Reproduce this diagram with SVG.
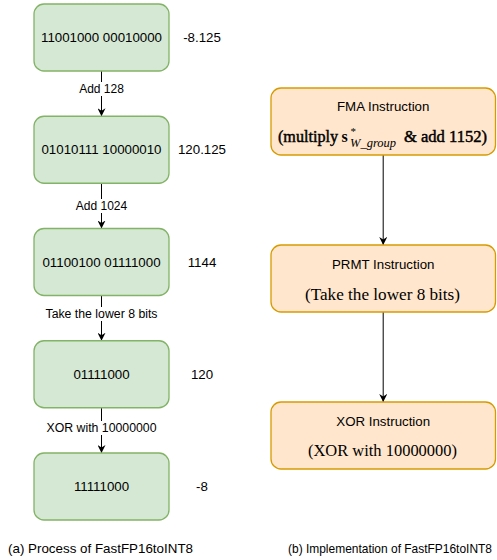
<svg xmlns="http://www.w3.org/2000/svg" width="497" height="560" viewBox="0 0 497 560">
<defs>
<marker id="arr" viewBox="0 0 10 10" refX="10" refY="5" markerWidth="8" markerHeight="8" markerUnits="userSpaceOnUse" orient="auto">
<path d="M0,0 L10,5 L0,10 L3,5 Z" fill="#000"/>
</marker>
<style>
.g{fill:#d5e8d4;stroke:#82b366;stroke-width:1.3}
.o{fill:#ffe6cc;stroke:#d79b00;stroke-width:1.3}
.t{font-family:"Liberation Sans",Arial,sans-serif;font-size:13.3px;fill:#000;text-anchor:middle}
.e{font-family:"Liberation Sans",Arial,sans-serif;font-size:12px;fill:#000;text-anchor:middle}
.m{font-family:"Liberation Serif","Times New Roman",serif;font-size:16px;fill:#000}
.b{stroke:#000;stroke-width:0.45}
.c{font-family:"Liberation Sans",Arial,sans-serif;font-size:13px;fill:#000}
.c2{font-family:"Liberation Sans",Arial,sans-serif;font-size:11.9px;fill:#000}
.ln{stroke:#000;stroke-width:1;fill:none}
.lb{fill:#fff}
</style>
</defs>
<g id="connectors">
<line class="ln" x1="101.5" y1="71" x2="101.5" y2="116.25" marker-end="url(#arr)"/>
<line class="ln" x1="101.5" y1="183.25" x2="101.5" y2="228.5" marker-end="url(#arr)"/>
<line class="ln" x1="101.5" y1="295.5" x2="101.5" y2="340.75" marker-end="url(#arr)"/>
<line class="ln" x1="101.5" y1="407.75" x2="101.5" y2="453" marker-end="url(#arr)"/>
<rect class="lb" x="78" y="82" width="47" height="14"/>
<text class="e" x="101.5" y="93.3">Add 128</text>
<rect class="lb" x="74" y="199" width="55" height="14"/>
<text class="e" x="101.5" y="210">Add 1024</text>
<rect class="lb" x="42" y="307" width="115" height="14"/>
<text class="e" x="101.5" y="318.3" textLength="112" lengthAdjust="spacingAndGlyphs">Take the lower 8 bits</text>
<rect class="lb" x="41" y="421" width="112" height="14"/>
<text class="e" x="101.5" y="432" textLength="110" lengthAdjust="spacingAndGlyphs">XOR with 10000000</text>
<line class="ln" x1="383.2" y1="155" x2="383.2" y2="245" marker-end="url(#arr)"/>
<line class="ln" x1="383.2" y1="312" x2="383.2" y2="402" marker-end="url(#arr)"/>
</g>
<g id="n1">
<rect class="g" x="34" y="4" width="135" height="67" rx="10"/>
<text class="t" x="101.5" y="42.2">11001000 00010000</text>
</g>
<g id="v1"><text class="t" x="202" y="42.2">-8.125</text></g>
<g id="n2">
<rect class="g" x="34" y="116.25" width="135" height="67" rx="10"/>
<text class="t" x="101.5" y="154.4">01010111 10000010</text>
</g>
<g id="v2"><text class="t" x="202" y="154.4">120.125</text></g>
<g id="n3">
<rect class="g" x="34" y="228.5" width="135" height="67" rx="10"/>
<text class="t" x="101.5" y="266.7">01100100 01111000</text>
</g>
<g id="v3"><text class="t" x="202" y="266.7">1144</text></g>
<g id="n4">
<rect class="g" x="34" y="340.75" width="135" height="67" rx="10"/>
<text class="t" x="101.5" y="378.9">01111000</text>
</g>
<g id="v4"><text class="t" x="202" y="378.9">120</text></g>
<g id="n5">
<rect class="g" x="34" y="453" width="135" height="67" rx="10"/>
<text class="t" x="101.5" y="491.2">11111000</text>
</g>
<g id="v5"><text class="t" x="202" y="491.2">-8</text></g>
<g id="fma">
<rect class="o" x="271" y="88" width="224.5" height="67" rx="10"/>
<text class="t" x="383.2" y="110.6">FMA Instruction</text>
<text class="m" y="142"><tspan class="b" x="278" textLength="60" lengthAdjust="spacingAndGlyphs">(multiply</tspan><tspan x="341.5" font-weight="bold">s</tspan><tspan x="350.5" y="135" style="font-size:11px">*</tspan><tspan x="350" y="147" style="font-size:12.5px;font-style:italic">W_group</tspan><tspan class="b" x="404" y="142" textLength="83" lengthAdjust="spacingAndGlyphs">&amp; add 1152)</tspan></text>
</g>
<g id="prmt">
<rect class="o" x="271" y="245" width="224.5" height="67" rx="10"/>
<text class="t" x="383.2" y="268.9">PRMT Instruction</text>
<text class="m" x="382.5" y="299.5" text-anchor="middle" textLength="155" lengthAdjust="spacingAndGlyphs">(Take the lower 8 bits)</text>
</g>
<g id="xor">
<rect class="o" x="271" y="402" width="224.5" height="67" rx="10"/>
<text class="t" x="383.2" y="426.3">XOR Instruction</text>
<text class="m" x="382.5" y="456" text-anchor="middle" textLength="149" lengthAdjust="spacingAndGlyphs">(XOR with 10000000)</text>
</g>
<g id="captions">
<text class="c" x="8" y="552.5" textLength="185" lengthAdjust="spacingAndGlyphs">(a) Process of FastFP16toINT8</text>
<text class="c2" x="288" y="552.5" textLength="204" lengthAdjust="spacingAndGlyphs">(b) Implementation of FastFP16toINT8</text>
</g>
</svg>
